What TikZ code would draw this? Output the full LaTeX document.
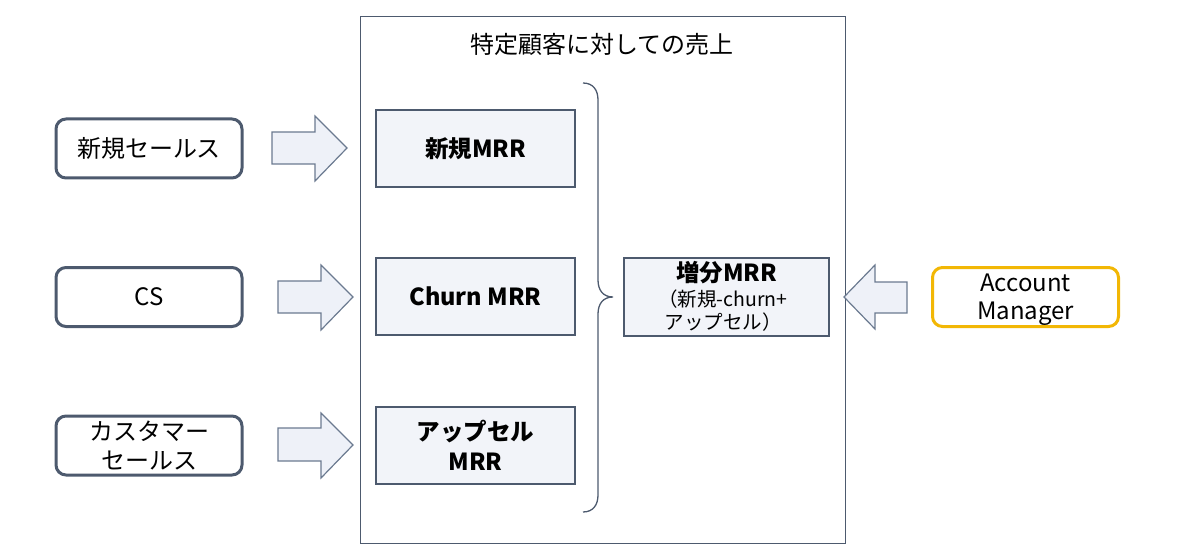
\documentclass[tikz,border=0pt]{standalone}
\usepackage{fontspec}
\setmainfont{Noto Sans CJK JP}
\definecolor{edge}{HTML}{4D5A6E}
\definecolor{lightfill}{HTML}{F2F4F9}
\definecolor{arrowfill}{HTML}{EEF1F8}
\definecolor{arrowedge}{HTML}{6B7A90}
\definecolor{amber}{HTML}{F2B705}
\tikzset{
  role/.style={draw=edge, line width=3pt, rounded corners=10pt, fill=white, minimum width=186pt, minimum height=59pt, align=center, font=\fontsize{24}{29}\selectfont},
  mrr/.style={draw=edge, line width=1.3pt, fill=lightfill, minimum width=199pt, minimum height=77pt, align=center, font=\fontsize{23.5}{30}\selectfont\bfseries},
  blockarrow/.style={draw=arrowedge, line width=1.2pt, fill=arrowfill, line join=miter},
}
\begin{document}
\begin{tikzpicture}[x=1pt, y=-1pt]
\useasboundingbox (0,0) rectangle (1200,559);
% container
\node[draw=edge, line width=1.3pt, minimum width=485pt, minimum height=527pt, anchor=north west, inner sep=0pt] (cont) at (360,16) {};
\node[font=\fontsize{24}{29}\selectfont] (title) at (602,44) {特定顧客に対しての売上};
% left role boxes
\node[role] (s1) at (149,148.5) {新規セールス};
\node[role] (s2) at (149,297) {CS};
\node[role] (s3) at (149,445.5) {カスタマー\\セールス};
% inner MRR boxes
\node[mrr] (m1) at (475.5,148.5) {新規MRR};
\node[mrr] (m2) at (475.5,296.5) {Churn MRR};
\node[mrr] (m3) at (475.5,445.5) {アップセル\\MRR};
% incremental
\node[draw=edge, line width=1.3pt, fill=lightfill, minimum width=205pt, minimum height=78pt, inner sep=0pt] (inc) at (726.5,297) {};
\node[font=\fontsize{23.5}{28}\selectfont\bfseries] (inct) at (726.5,273) {増分MRR};
\node[font=\fontsize{19.5}{23}\selectfont, align=center] (incs) at (723,311) {（新規-churn+\\アップセル）};
% account manager
\node[role, draw=amber, minimum height=59pt] (am) at (1025.5,297) {};
\node[font=\fontsize{24}{28}\selectfont, align=center] (amt) at (1025.5,299.5) {Account\\Manager};
% block arrows
\draw[blockarrow] (272,132) -- (315,132) -- (315,116) -- (347,148) -- (315,181) -- (315,164) -- (272,164) -- cycle;
\draw[blockarrow] (278,281) -- (321,281) -- (321,265) -- (353,297) -- (321,330) -- (321,313) -- (278,313) -- cycle;
\draw[blockarrow] (278,428) -- (321,428) -- (321,413) -- (353,445) -- (321,478) -- (321,461) -- (278,461) -- cycle;
\draw[blockarrow] (907,282) -- (875,282) -- (875,265) -- (844,297) -- (875,329) -- (875,313) -- (907,313) -- cycle;
% brace
\coordinate (bt) at (583,83);
\coordinate (bb) at (583,512);
\coordinate (tip) at (613,297);
\draw[edge, line width=1.3pt] (bt) .. controls (593,83) and (598,90) .. (598,100) -- (598,280) .. controls (598,290) and (603,297) .. (tip) .. controls (603,297) and (598,304) .. (598,314) -- (598,495) .. controls (598,505) and (593,512) .. (bb);
\end{tikzpicture}
\end{document}
